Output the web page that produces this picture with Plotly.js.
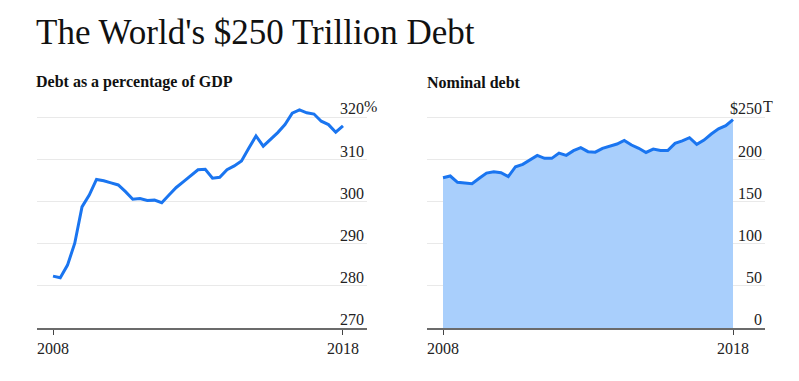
<!DOCTYPE html>
<html>
<head>
<meta charset="utf-8">
<script src="https://cdn.plot.ly/plotly-3.0.1.min.js"></script>
<style>
html,body{margin:0;padding:0;background:#fff;}
#chart{width:799px;height:381px;}
</style>
</head>
<body>
<div id="chart"></div>
<script>
// Quarterly observations, Q1 2008 .. Q1 2018
var quarters = [2008.00,2008.25,2008.50,2008.75,2009.00,2009.25,2009.50,2009.75,2010.00,2010.25,2010.50,2010.75,
  2011.00,2011.25,2011.50,2011.75,2012.00,2012.25,2012.50,2012.75,2013.00,2013.25,2013.50,2013.75,
  2014.00,2014.25,2014.50,2014.75,2015.00,2015.25,2015.50,2015.75,2016.00,2016.25,2016.50,2016.75,
  2017.00,2017.25,2017.50,2017.75,2018.00];

// Debt as a percentage of GDP (%)
var debtPctGdp = [282.3,281.9,284.9,290.1,298.7,301.5,305.2,304.9,304.4,303.9,302.3,300.5,
  300.7,300.2,300.3,299.7,301.5,303.3,304.7,306.2,307.5,307.6,305.5,305.7,
  307.5,308.4,309.6,312.6,315.5,313.1,314.6,316.3,318.2,320.9,321.7,321.0,
  320.7,319.0,318.2,316.4,317.9];

// Nominal debt (trillions of dollars)
var nominalDebt = [178.1,180.1,172.6,171.8,171.0,177.4,183.6,185.2,184.0,179.3,191.1,193.9,
  199.0,204.5,201.0,201.0,207.3,204.6,210.1,213.6,208.9,208.3,212.9,215.6,
  218.0,222.3,216.8,212.9,208.0,212.0,210.3,210.3,218.8,221.6,225.5,217.6,
  222.7,229.8,236.0,239.7,247.0];

var xTickVals = [2008, 2018];
var xTickText = ['2008', '2018'];
var pctTickVals = [270, 280, 290, 300, 310, 320];
var pctTickText = ['270', '280', '290', '300', '310', '320'];
var nomTickVals = [0, 50, 100, 150, 200, 250];
var nomTickText = ['0', '50', '100', '150', '200', '$250'];

var LINE = '#1a75f0';
var FILL = '#a9cffc';
var SERIF = 'Liberation Serif, DejaVu Serif, serif';

var traces = [
  {x: quarters, y: debtPctGdp, type: 'scatter', mode: 'lines',
   line: {color: LINE, width: 3}, xaxis: 'x', yaxis: 'y', hoverinfo: 'skip'},
  {x: quarters, y: nominalDebt, type: 'scatter', mode: 'lines', fill: 'tozeroy',
   fillcolor: FILL, line: {color: LINE, width: 3}, xaxis: 'x2', yaxis: 'y2', hoverinfo: 'skip'}
];

var W = 799, H = 381;
var PX10 = 4.22; // pixels per 10 units on the left axis
var yDom = [(H - 328) / H, (H - (328 - 58 * PX10)) / H];

function xAx(dom, rng) {
  return {domain: dom, range: rng, tickmode: 'array', tickvals: xTickVals, ticktext: xTickText,
    ticks: 'outside', ticklen: 5, tickwidth: 1, tickcolor: '#444', ticklabeloverflow: 'allow',
    showline: true, linecolor: '#6b6b6b', linewidth: 2, showgrid: false, zeroline: false,
    tickfont: {family: SERIF, size: 16, color: '#222'}, fixedrange: true};
}
function yAx(anchor, rng, vals, text) {
  return {anchor: anchor, domain: yDom, range: rng, side: 'right', tickmode: 'array',
    tickvals: vals, ticktext: text, ticklabelposition: 'inside top', ticklabelshift: 3,
    ticklabeloverflow: 'allow', ticks: '',
    showgrid: true, gridcolor: '#e9e9e9', gridwidth: 1, zeroline: false, showline: false,
    tickfont: {family: SERIF, size: 16, color: '#222'}, fixedrange: true};
}

var layout = {
  width: W, height: H,
  margin: {l: 0, r: 0, t: 0, b: 0},
  paper_bgcolor: '#fff', plot_bgcolor: 'rgba(0,0,0,0)',
  showlegend: false,
  title: {text: "The World's $250 Trillion Debt", x: 36 / W, xanchor: 'left',
    xref: 'paper', yref: 'container', y: 1 - 32 / H, yanchor: 'middle',
    font: {family: SERIF, size: 35, color: '#111'}},
  xaxis: xAx([37 / W, 367 / W], [2007.448, 2018.828]),
  yaxis: yAx('x', [270, 328], pctTickVals, pctTickText),
  xaxis2: xAx([427 / W, 765 / W], [2007.448, 2019.103]),
  yaxis2: yAx('x2', [0, 290], nomTickVals, nomTickText),
  annotations: [
    {text: '<b>Debt as a percentage of GDP</b>', xref: 'paper', yref: 'paper',
     x: 34 / W, y: (H - 82) / H, xanchor: 'left', yanchor: 'middle', showarrow: false,
     font: {family: SERIF, size: 16, color: '#111'}},
    {text: '<b>Nominal debt</b>', xref: 'paper', yref: 'paper',
     x: 425 / W, y: (H - 82) / H, xanchor: 'left', yanchor: 'middle', showarrow: false,
     font: {family: SERIF, size: 16, color: '#111'}},
    {text: '%', xref: 'paper', yref: 'y', x: 366 / W, y: pctTickVals[5], xanchor: 'left',
     yanchor: 'bottom', showarrow: false, xshift: -3, yshift: 1, borderpad: 0,
     font: {family: SERIF, size: 16, color: '#222'}},
    {text: 'T', xref: 'paper', yref: 'y2', x: 765 / W, y: nomTickVals[5], xanchor: 'left',
     yanchor: 'bottom', showarrow: false, xshift: -3, yshift: 1, borderpad: 0,
     font: {family: SERIF, size: 16, color: '#222'}}
  ]
};

Plotly.newPlot('chart', traces, layout, {displayModeBar: false, staticPlot: true});
</script>
</body>
</html>
